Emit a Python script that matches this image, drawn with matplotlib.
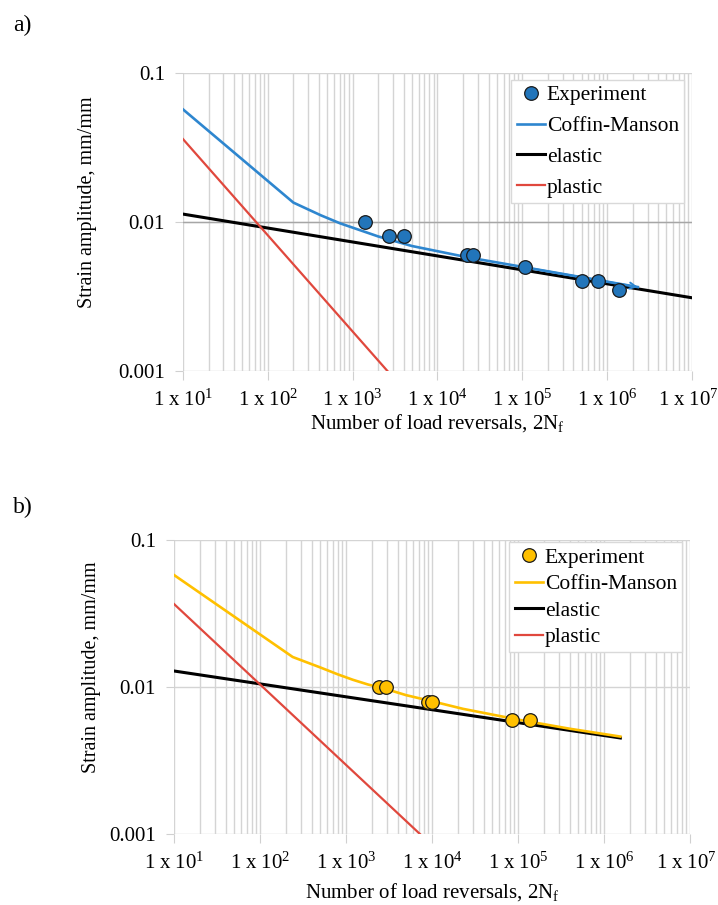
import numpy as np
import matplotlib
matplotlib.use('Agg')
import matplotlib.pyplot as plt
import matplotlib.transforms as mtransforms
from matplotlib.ticker import LogLocator, NullFormatter

plt.rcParams['font.family'] = ['Liberation Serif', 'DejaVu Serif']
plt.rcParams['mathtext.fontset'] = 'custom'
plt.rcParams['mathtext.rm'] = 'Liberation Serif'
plt.rcParams['mathtext.it'] = 'Liberation Serif:italic'

# ---- panel a) data ----
a_exp_x = [1410, 2690, 4060, 22300, 26300, 1.07e5, 5.0e5, 7.8e5, 1.38e6]
a_exp_y = [0.0100, 0.00805, 0.00805, 0.0060, 0.0060, 0.00499, 0.00402, 0.00402, 0.0035]
a_cm_x = [10, 200, 420, 710, 1230, 2000, 5000, 22400, 1.0e5, 2.3e6]
a_cm_y = [0.057, 0.0135, 0.0111, 0.0098, 0.0088, 0.0080, 0.0069, 0.0058, 0.0050, 0.00366]
a_el_x = [10, 1e7]
a_el_y = [0.0113, 0.0031]
a_pl_x = [10, 2570]
a_pl_y = [0.036, 0.001]

# ---- panel b) data ----
b_exp_x = [2400, 2940, 8900, 10000, 8.5e4, 1.38e5]
b_exp_y = [0.0100, 0.0100, 0.0079, 0.0079, 0.00597, 0.00597]
b_cm_x = [10, 240, 500, 800, 1200, 1800, 2900, 5000, 10000, 23000, 1.0e5, 4.0e5, 1.55e6]
b_cm_y = [0.0578, 0.0160, 0.0136, 0.0122, 0.0112, 0.0104, 0.0097, 0.0088, 0.0080, 0.0071,
          0.0060, 0.0052, 0.0046]
b_el_x = [10, 1.55e6]
b_el_y = [0.01285, 0.0045]
b_pl_x = [10, 7240]
b_pl_y = [0.0367, 0.001]

xtick_vals = [1e1, 1e2, 1e3, 1e4, 1e5, 1e6, 1e7]
xtick_labels = [r'$\mathregular{1\ x\ 10^{%d}}$' % k for k in range(1, 8)]
ytick_vals = [0.001, 0.01, 0.1]
ytick_labels = ['0.001', '0.01', '0.1']

red = '#E0483D'
fig = plt.figure(figsize=(7.18, 9.05), dpi=100)


def panel(rect, exp_x, exp_y, cm_x, cm_y, el_x, el_y, pl_x, pl_y,
          cm_color, mk_color, arrow, dark_mid, xpad, leg_top, leg_sp):
    ax = fig.add_axes(rect)
    ax.set_xscale('log')
    ax.set_yscale('log')
    ax.set_xlim(1e1, 1e7)
    ax.set_ylim(1e-3, 1e-1)
    for s in ax.spines.values():
        s.set_visible(False)
    ax.xaxis.set_minor_locator(LogLocator(base=10, subs=np.arange(2, 10)))
    ax.xaxis.set_minor_formatter(NullFormatter())
    ax.yaxis.set_minor_locator(LogLocator(base=10, subs=[]))
    ax.set_xticks(xtick_vals)
    ax.set_xticklabels(xtick_labels, fontsize=15)
    ax.set_yticks(ytick_vals)
    ax.set_yticklabels(ytick_labels, fontsize=15)
    ax.tick_params(axis='x', which='major', length=6.5, color='#d0d0d0', pad=7)
    ax.tick_params(axis='y', which='major', length=6, color='#d0d0d0', pad=7)
    ax.tick_params(which='minor', length=0)
    # last tick label sits at the figure edge, nudge it in a little
    last = ax.get_xticklabels()[-1]
    last.set_transform(last.get_transform() +
                       mtransforms.ScaledTranslation(-4 / 100, 0, fig.dpi_scale_trans))
    ax.grid(True, axis='x', which='both', color='#d4d4d4', lw=1.0)
    ax.grid(True, axis='y', which='major', color='#d4d4d4', lw=1.0)
    if dark_mid:
        ax.axhline(ytick_vals[1], color='#a6a6a6', lw=1.0, zorder=1)
    ax.set_axisbelow(True)

    ax.plot(cm_x, cm_y, color=cm_color, lw=1.9, label='Coffin-Manson', zorder=3)
    ax.plot(el_x, el_y, color='black', lw=2.2, label='elastic', zorder=2)
    ax.plot(pl_x, pl_y, color=red, lw=1.6, label='plastic', zorder=2)
    ax.plot(exp_x, exp_y, 'o', ms=9.8, mfc=mk_color, mec='#1a1a1a', mew=0.9,
            label='Experiment', zorder=4, clip_on=False)
    if arrow:
        ax.annotate('', xy=(cm_x[-1], cm_y[-1]), xytext=(cm_x[-2], cm_y[-2]),
                    arrowprops=dict(arrowstyle='->', color=cm_color, lw=1.4,
                                    mutation_scale=11, shrinkA=0, shrinkB=0),
                    zorder=3)

    h, l = ax.get_legend_handles_labels()
    order = [3, 0, 1, 2]
    leg = ax.legend([h[i] for i in order], [l[i] for i in order],
                    loc='upper right', bbox_to_anchor=(0.985, leg_top),
                    fontsize=15.5, frameon=True, fancybox=False,
                    edgecolor='#d9d9d9', framealpha=1, borderpad=0.25,
                    labelspacing=leg_sp, handlelength=1.3, handletextpad=0.1,
                    borderaxespad=0.0)
    leg.get_frame().set_linewidth(1.0)
    ax.set_ylabel('Strain amplitude, mm/mm', fontsize=14.5)
    ax.yaxis.set_label_coords(-0.168, 0.567)
    ax.set_xlabel(r'Number of load reversals, 2N$_\mathregular{f}$', fontsize=15, labelpad=xpad)
    return ax


ax_a = panel([183 / 718, 1 - 371 / 905, 509 / 718, 298 / 905],
             a_exp_x, a_exp_y, a_cm_x, a_cm_y, a_el_x, a_el_y, a_pl_x, a_pl_y,
             '#2E86CF', '#2275BA', True, True, 1, 0.977, 0.5)
ax_b = panel([174 / 718, 1 - 834 / 905, 516 / 718, 294 / 905],
             b_exp_x, b_exp_y, b_cm_x, b_cm_y, b_el_x, b_el_y, b_pl_x, b_pl_y,
             '#FFC000', '#FFC000', False, False, 5, 0.993, 0.3)
ax_b.yaxis.set_label_coords(-0.141, 0.567)

fig.text(13 / 718, 1 - 25 / 905, 'a)', fontsize=17, va='center', ha='left')
fig.text(13 / 718, 1 - 507 / 905, 'b)', fontsize=17, va='center', ha='left')

fig.savefig('out.png', dpi=100)
